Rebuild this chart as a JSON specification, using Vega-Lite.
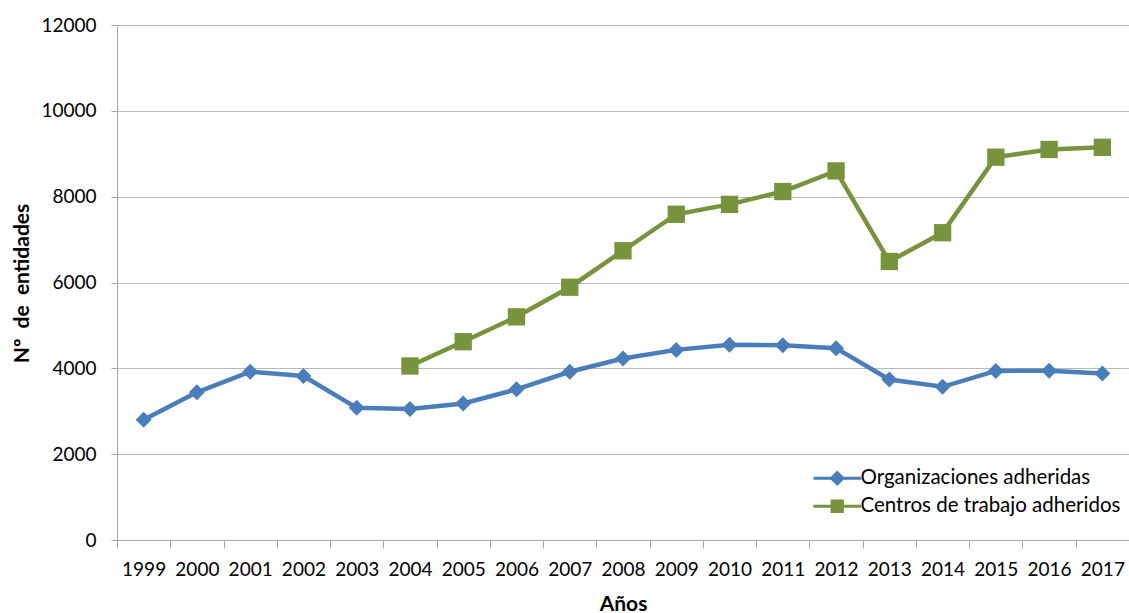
{
  "$schema": "https://vega.github.io/schema/vega-lite/v6.json",
  "width": 1012,
  "height": 515,
  "autosize": {"type": "none"},
  "padding": {"left": 117, "top": 25, "right": 0, "bottom": 73},
  "background": "white",
  "config": {"view": {"stroke": null}, "font": "Lato"},
  "data": {
    "values": [
      {"year": "1999", "series": "Organizaciones adheridas", "value": 2800},
      {"year": "2000", "series": "Organizaciones adheridas", "value": 3440},
      {"year": "2001", "series": "Organizaciones adheridas", "value": 3920},
      {"year": "2002", "series": "Organizaciones adheridas", "value": 3820},
      {"year": "2003", "series": "Organizaciones adheridas", "value": 3080},
      {"year": "2004", "series": "Organizaciones adheridas", "value": 3050},
      {"year": "2005", "series": "Organizaciones adheridas", "value": 3180},
      {"year": "2006", "series": "Organizaciones adheridas", "value": 3510},
      {"year": "2007", "series": "Organizaciones adheridas", "value": 3920},
      {"year": "2008", "series": "Organizaciones adheridas", "value": 4230},
      {"year": "2009", "series": "Organizaciones adheridas", "value": 4430},
      {"year": "2010", "series": "Organizaciones adheridas", "value": 4550},
      {"year": "2011", "series": "Organizaciones adheridas", "value": 4540},
      {"year": "2012", "series": "Organizaciones adheridas", "value": 4470},
      {"year": "2013", "series": "Organizaciones adheridas", "value": 3740},
      {"year": "2014", "series": "Organizaciones adheridas", "value": 3570},
      {"year": "2015", "series": "Organizaciones adheridas", "value": 3940},
      {"year": "2016", "series": "Organizaciones adheridas", "value": 3945},
      {"year": "2017", "series": "Organizaciones adheridas", "value": 3880},
      {"year": "2004", "series": "Centros de trabajo adheridos", "value": 4055},
      {"year": "2005", "series": "Centros de trabajo adheridos", "value": 4620},
      {"year": "2006", "series": "Centros de trabajo adheridos", "value": 5200},
      {"year": "2007", "series": "Centros de trabajo adheridos", "value": 5890},
      {"year": "2008", "series": "Centros de trabajo adheridos", "value": 6740},
      {"year": "2009", "series": "Centros de trabajo adheridos", "value": 7590},
      {"year": "2010", "series": "Centros de trabajo adheridos", "value": 7820},
      {"year": "2011", "series": "Centros de trabajo adheridos", "value": 8120},
      {"year": "2012", "series": "Centros de trabajo adheridos", "value": 8600},
      {"year": "2013", "series": "Centros de trabajo adheridos", "value": 6490},
      {"year": "2014", "series": "Centros de trabajo adheridos", "value": 7160},
      {"year": "2015", "series": "Centros de trabajo adheridos", "value": 8920},
      {"year": "2016", "series": "Centros de trabajo adheridos", "value": 9100},
      {"year": "2017", "series": "Centros de trabajo adheridos", "value": 9150}
    ]
  },
  "encoding": {
    "x": {
      "field": "year",
      "type": "ordinal",
      "bandPosition": 0.5,
      "scale": {"type": "band", "paddingInner": 0, "paddingOuter": 0},
      "axis": {
        "title": "Años",
        "titleFont": "Lato",
        "titleFontSize": 21,
        "titleFontWeight": "bold",
        "titleColor": "#000000",
        "titleBaseline": "alphabetic",
        "titleY": 70,
        "labelFont": "Lato",
        "labelFontSize": 19,
        "labelColor": "#000000",
        "labelAngle": 0,
        "labelPadding": 12,
        "tickBand": "extent",
        "tickSize": 8,
        "tickColor": "#a6a6a6",
        "domainColor": "#a6a6a6",
        "grid": false
      }
    },
    "y": {
      "field": "value",
      "type": "quantitative",
      "scale": {"domain": [0, 12000], "nice": false},
      "axis": {
        "title": "Nº\u00a0 de\u00a0 entidades",
        "titleFont": "Lato",
        "titleFontSize": 21,
        "titleFontWeight": "bold",
        "titleColor": "#000000",
        "titleBaseline": "alphabetic",
        "titleX": -89,
        "titleY": 258,
        "values": [0, 2000, 4000, 6000, 8000, 10000, 12000],
        "format": "d",
        "labelFont": "Lato",
        "labelFontSize": 19,
        "labelColor": "#000000",
        "labelPadding": 15,
        "tickSize": 6,
        "tickColor": "#a6a6a6",
        "domainColor": "#a6a6a6",
        "grid": true,
        "gridColor": "#b9b9b9"
      }
    }
  },
  "layer": [
    {
      "mark": {"type": "line", "strokeWidth": 4.5},
      "encoding": {
        "color": {
          "field": "series",
          "type": "nominal",
          "scale": {
            "domain": ["Organizaciones adheridas", "Centros de trabajo adheridos"],
            "range": ["#4a7ebb", "#77933c"]
          },
          "legend": {
            "orient": "none",
            "legendX": 710,
            "legendY": 443,
            "title": null,
            "padding": 0,
            "labelFont": "Lato",
            "labelFontSize": 20.5,
            "labelColor": "#000000",
            "labelLimit": 0,
            "labelOffset": 13,
            "rowPadding": 7,
            "symbolSize": 196,
            "symbolStrokeWidth": 0,
            "encode": {
              "symbols": {
                "update": {
                  "shape": {"signal": "datum.value === 'Organizaciones adheridas' ? 'M-3.4,-0.21H-0.9L0,-1.1L0.9,-0.21H3.4V0.21H0.9L0,1.1L-0.9,0.21H-3.4Z' : 'M-3.4,-0.21H-0.95V-0.95H0.95V-0.21H3.4V0.21H0.95V0.95H-0.95V0.21H-3.4Z'"},
                  "fill": {"signal": "datum.value === 'Organizaciones adheridas' ? '#4a7ebb' : '#77933c'"},
                  "strokeWidth": {"value": 0},
                  "opacity": {"value": 1}
                }
              }
            }
          }
        }
      }
    },
    {
      "transform": [{"filter": "datum.series === 'Organizaciones adheridas'"}],
      "mark": {"type": "point", "shape": "diamond", "filled": true, "opacity": 1, "strokeWidth": 0, "size": 256, "color": "#4a7ebb"}
    },
    {
      "transform": [{"filter": "datum.series === 'Centros de trabajo adheridos'"}],
      "mark": {"type": "point", "shape": "square", "filled": true, "opacity": 1, "strokeWidth": 0, "size": 300, "color": "#77933c"}
    }
  ]
}
